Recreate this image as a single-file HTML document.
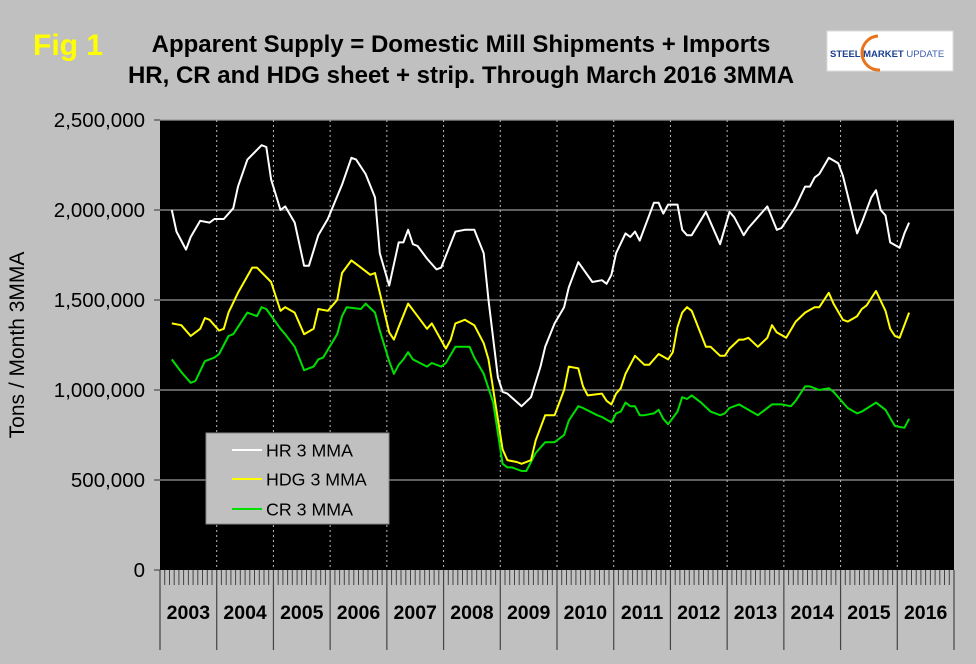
<!DOCTYPE html>
<html><head><meta charset="utf-8"><style>
html,body{margin:0;padding:0;background:#c0c0c0;}
svg{display:block;font-family:"Liberation Sans",Arial,sans-serif;}
</style></head><body>
<svg id="chart" width="976" height="664" viewBox="0 0 976 664">
<rect x="0" y="0" width="976" height="664" fill="#c0c0c0"/>
<text x="33" y="55" font-size="30" font-weight="bold" fill="#ffff00">Fig 1</text>
<text x="461" y="52" font-size="24" font-weight="bold" text-anchor="middle" fill="#000">Apparent Supply = Domestic Mill Shipments + Imports</text>
<text x="461" y="83" font-size="24" font-weight="bold" text-anchor="middle" fill="#000">HR, CR and HDG sheet + strip. Through March 2016 3MMA</text>
<g>
<rect x="827" y="31" width="126" height="40" fill="#fff" stroke="#ddd"/>
<path d="M878,36 A14,14 0 1,0 880,70" fill="none" stroke="#e8731a" stroke-width="3"/>
<text x="830" y="57" font-size="9.5" font-weight="bold" fill="#1d3f8f">STEEL MARKET <tspan font-weight="normal" fill="#3b5fb0">UPDATE</tspan></text>
</g>
<text transform="translate(24,345) rotate(-90)" font-size="21" text-anchor="middle" fill="#000">Tons / Month 3MMA</text>
<rect x="160" y="120" width="794" height="450" fill="#000"/>
<g id="grid"></g><g id="axes"></g><g id="series"></g>
<g>
<rect x="206" y="433" width="183" height="91" fill="#c0c0c0" stroke="#888"/>
<line x1="232" y1="450" x2="262" y2="450" stroke="#fff" stroke-width="2"/>
<text x="266" y="456.5" font-size="17.8" fill="#000">HR 3 MMA</text>
<line x1="232" y1="479" x2="262" y2="479" stroke="#ffff00" stroke-width="2"/>
<text x="266" y="485.5" font-size="17.8" fill="#000">HDG 3 MMA</text>
<line x1="232" y1="509" x2="262" y2="509" stroke="#00e000" stroke-width="2"/>
<text x="266" y="515.5" font-size="17.8" fill="#000">CR 3 MMA</text>
</g>
</svg>
<script>
const years = ["2003","2004","2005","2006","2007","2008","2009","2010","2011","2012","2013","2014","2015","2016"];
const yTicks = [0,500000,1000000,1500000,2000000,2500000];
const yTickLabels = ["0","500,000","1,000,000","1,500,000","2,000,000","2,500,000"];
// month index (0 = Jan 2003), values in thousands of tons
const hrMonths = [2,3,5,6,8,10,11,13,15,16,18,21,22,23,25,26,28,30,31,33,35,38,40,41,43,45,46,48,50,51,52,53,54,56,58,59,62,64,66,68,69,71,72,73,76,78,80,81,83,85,86,88,91,93,94,95,96,98,99,100,101,104,105,106,107,109,110,111,112,115,118,120,121,123,124,126,128,130,131,134,136,137,138,139,141,143,144,147,148,150,151,152,153,154,156,157,158];
const hrValues = [2000,1880,1780,1850,1940,1930,1950,1950,2010,2130,2280,2360,2350,2170,2000,2020,1930,1690,1690,1860,1950,2140,2290,2280,2200,2070,1760,1580,1820,1820,1890,1810,1800,1730,1670,1680,1880,1890,1890,1760,1500,1070,990,980,910,960,1130,1240,1370,1460,1570,1710,1600,1610,1590,1640,1760,1870,1850,1880,1830,2040,2040,1980,2030,2030,1890,1860,1860,1990,1810,1990,1960,1860,1900,1960,2020,1890,1900,2020,2130,2130,2180,2200,2290,2260,2190,1870,1930,2070,2110,2000,1970,1820,1790,1870,1930];
const hdgMonths = [2,4,6,8,9,10,12,13,14,16,19,20,23,25,26,28,30,32,33,35,37,38,40,42,44,45,46,48,49,50,52,54,56,57,60,61,62,64,66,68,69,72,73,75,76,78,79,81,83,85,86,88,89,90,93,94,95,96,97,98,100,102,103,105,107,108,109,110,111,112,115,116,118,119,120,122,123,124,126,128,129,130,132,134,136,138,139,141,142,144,145,147,148,149,151,153,154,155,156,158];
const hdgValues = [1370,1360,1300,1340,1400,1390,1330,1340,1430,1540,1680,1680,1600,1440,1460,1430,1310,1340,1450,1440,1500,1650,1720,1680,1640,1650,1540,1320,1280,1350,1480,1410,1340,1370,1230,1280,1370,1390,1360,1260,1170,670,610,600,590,610,720,860,860,1000,1130,1120,1020,970,980,940,920,980,1010,1090,1190,1140,1140,1200,1170,1210,1350,1430,1460,1440,1240,1240,1190,1190,1230,1280,1280,1290,1240,1290,1360,1320,1290,1380,1430,1460,1460,1540,1480,1390,1380,1410,1450,1470,1550,1440,1340,1300,1290,1430];
const crMonths = [2,4,6,7,9,11,12,14,15,18,20,21,22,25,26,28,30,32,33,34,37,38,39,42,43,45,46,48,49,50,51,52,53,56,57,59,60,62,65,66,68,70,72,73,74,76,77,79,81,83,85,86,88,89,92,93,95,96,97,98,99,100,101,102,104,105,106,107,109,110,111,112,114,116,118,119,120,122,124,126,129,131,133,134,136,137,139,141,142,145,147,148,151,153,155,157,158];
const crValues = [1170,1100,1040,1050,1160,1180,1200,1300,1310,1430,1410,1460,1450,1340,1310,1240,1110,1130,1170,1180,1310,1410,1460,1450,1480,1430,1330,1160,1090,1140,1170,1210,1170,1130,1150,1130,1150,1240,1240,1180,1090,930,590,570,570,550,550,650,710,710,750,830,910,900,860,850,820,870,880,930,910,910,860,860,870,890,840,810,880,960,950,970,930,880,860,870,900,920,890,860,920,920,910,940,1020,1020,1000,1010,990,900,870,880,930,890,800,790,840];

const NS = "http://www.w3.org/2000/svg";
const L = 160, R = 954, T = 120, B = 570;
const nMonths = years.length * 12;
const mw = (R - L) / nMonths;
function xScale(m){ return L + (m + 0.5) * mw; }
function yScale(v){ return B - v / 2500000 * (B - T); }
function mk(tag, attrs, parent){ const e = document.createElementNS(NS, tag); for (const k in attrs) e.setAttribute(k, attrs[k]); parent.appendChild(e); return e; }

const grid = document.getElementById('grid');
const axes = document.getElementById('axes');
const series = document.getElementById('series');

yTicks.forEach((t, i) => {
  const y = yScale(t);
  if (t > 0) {
    const g = mk('line', {x1:L, x2:R, y1:y, y2:y, stroke:'#9a9a9a', 'stroke-width':1.3}, grid);
    
    
  }
  const tk = mk('line', {x1:L-6, x2:L, y1:y, y2:y, stroke:'#333'}, axes);
  
  
  const tx = mk('text', {x:145, y:y+7, 'font-size':20.5, 'text-anchor':'end', fill:'#000'}, axes);
  tx.textContent = yTickLabels[i];
  
  
});

years.forEach((yr, i) => {
  const x0 = xScale(i * 12 - 0.5);
  if (i > 0) {
    const v = mk('line', {x1:x0, x2:x0, y1:T, y2:B, stroke:'#bbb', 'stroke-dasharray':'2,3'}, grid);
    
    
  }
  const b = mk('line', {x1:x0, x2:x0, y1:B, y2:650, stroke:'#444', 'stroke-width':1.2}, axes);
  
  
  const t = mk('text', {x:xScale(i * 12 + 5.5), y:619, 'font-size':19.5, 'font-weight':'bold', 'text-anchor':'middle', fill:'#000'}, axes);
  t.textContent = yr;
  
  
});
const endB = mk('line', {x1:R, x2:R, y1:B, y2:650, stroke:'#444', 'stroke-width':1.2}, axes);


let d = '';
for (let m = 0; m < nMonths; m++) { if (m % 12 === 0) continue; const x = L + m * mw; d += 'M' + x.toFixed(1) + ',' + B + 'V' + (B + 15); }
const mt = mk('path', {d:d, stroke:'#444', 'stroke-width':1}, axes);



function line(months, vals, color, name){
  const pts = months.map((m, i) => xScale(m).toFixed(1) + ',' + yScale(vals[i] * 1000).toFixed(1)).join(' ');
  const p = mk('polyline', {points:pts, fill:'none', stroke:color, 'stroke-width':2, 'stroke-linejoin':'round'}, series);
  
  
}
line(crMonths, crValues, '#00e000', 'cr-3mma-line');
line(hdgMonths, hdgValues, '#ffff00', 'hdg-3mma-line');
line(hrMonths, hrValues, '#ffffff', 'hr-3mma-line');
</script>
</body></html>
